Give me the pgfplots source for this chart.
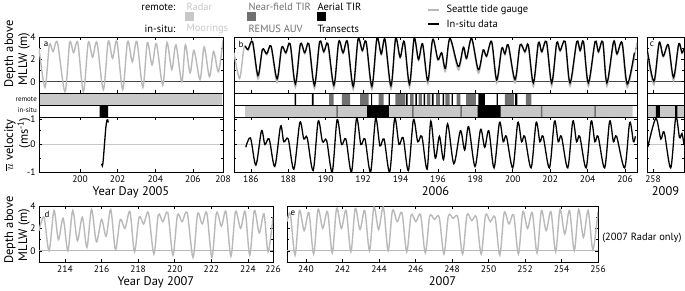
\documentclass[border=0pt]{standalone}
\usepackage{pgfplots}
\pgfplotsset{compat=1.18}
\usepackage{fontspec}
\setmainfont{PT Sans}
\definecolor{lg}{RGB}{200,200,200}
\definecolor{cg}{RGB}{185,185,185}
\definecolor{mg}{RGB}{112,112,112}
\definecolor{zg}{RGB}{70,70,70}
\newcommand\tickfont{\fontsize{9.5}{10}\selectfont}
\newcommand\labfont{\fontsize{12.5}{13}\selectfont}
\newcommand\legfont{\fontsize{10.5}{11}\selectfont}
\pgfplotsset{
 base/.style={scale only axis, anchor=north west, axis line style={line width=0.9pt},
   tick align=inside, major tick length=3bp, minor tick length=2bp,
   tick style={black, line width=0.6pt}, ticklabel style={font=\tickfont},
   /pgf/number format/assume math mode=true, xlabel style={font=\labfont, yshift=3bp}},
 depth/.style={base, height=56bp, ymin=-1, ymax=4, ytick={0,2,4}, minor ytick={1,3},
   extra y ticks={0}, extra y tick labels={}, extra y tick style={grid=major}},
 vel/.style={base, height=55bp, ymin=-1, ymax=1, ytick={-1,0,0.93}, yticklabels={-1,0,1}, minor ytick={-0.5,0.5},
   extra y ticks={0}, extra y tick labels={}, extra y tick style={grid=major},
   major grid style={lg, line width=0.8pt}},
 row/.style={scale only axis, anchor=north west, height=12bp, ymin=0, ymax=1, xtick=\empty, ytick=\empty,
   axis line style={line width=0.9pt}, axis on top},
 gline/.style={cg, line width=1.4pt, smooth},
 kline/.style={black, line width=1.3pt, smooth},
 bar/.style={const plot mark left, draw=none, fill=#1},
}
\begin{document}
\begin{tikzpicture}
\path[use as bounding box] (0,0) rectangle (685bp,-291bp);

% ---------- legend ----------
\node[anchor=east, font=\legfont] at (179bp,-7bp) {remote:};
\node[anchor=west, font=\legfont, text=lg] at (183bp,-7bp) {Radar};
\node[anchor=north west, fill=lg, minimum size=9bp, inner sep=0pt] at (185bp,-12bp) {};
\node[anchor=east, font=\legfont] at (179bp,-29bp) {in-situ:};
\node[anchor=west, font=\legfont, text=lg] at (183bp,-29bp) {Moorings};
\node[anchor=west, font=\legfont, text=mg] at (245bp,-7bp) {Near-field TIR};
\node[anchor=north west, fill=mg, minimum size=9bp, inner sep=0pt] at (247bp,-12bp) {};
\node[anchor=west, font=\legfont, text=mg] at (245bp,-29bp) {REMUS AUV};
\node[anchor=west, font=\legfont] at (314bp,-7bp) {Aerial TIR};
\node[anchor=north west, fill=black, minimum size=9bp, inner sep=0pt] at (317bp,-12bp) {};
\node[anchor=west, font=\legfont] at (314bp,-29bp) {Transects};
\draw[cg, line width=1.4pt] (428bp,-10bp) -- (439bp,-10bp);
\node[anchor=west, font=\legfont] at (443bp,-10bp) {Seattle tide gauge};
\draw[black, line width=1.3pt] (428bp,-24bp) -- (439bp,-24bp);
\node[anchor=west, font=\legfont] at (443bp,-24bp) {In-situ data};

% ---------- y labels ----------
\node[rotate=90, font=\labfont] at (10bp,-54bp) {Depth above};
\node[rotate=90, font=\labfont] at (24bp,-59bp) {MLLW (m)};
\node[anchor=east, inner sep=1pt, font=\fontsize{7}{7}\selectfont] at (38bp,-99bp) {remote};
\node[anchor=east, inner sep=1pt, font=\fontsize{7}{7}\selectfont] at (38bp,-110.5bp) {in-situ};
\node[rotate=90, font=\labfont] at (10bp,-145bp) {$\overline{u}$ velocity};
\node[rotate=90, font=\labfont] at (24bp,-133bp) {(ms\textsuperscript{-1})};
\node[rotate=90, font=\labfont] at (10bp,-230bp) {Depth above};
\node[rotate=90, font=\labfont] at (24bp,-235bp) {MLLW (m)};
\node[anchor=east, font=\legfont] at (685bp,-238bp) {(2007 Radar only)};

% ================= panel a =================
\begin{axis}[depth, at={(39bp,-37bp)}, width=184bp, xmin=197.82, xmax=207.6,
  xtick={200,202,204,206}, xticklabels={}, major grid style={zg, line width=0.7pt}]
\addplot[gline] coordinates {
(197.82,3.0)(198.14,-0.5)(198.37,3.3)(198.57,2.7)(198.8,3.5)(199.2,-0.9)(199.45,3.5)(199.66,2.6)(199.88,3.5)
(200.18,-0.9)(200.44,3.5)(200.67,2.2)(200.9,3.5)(201.24,-0.7)(201.5,3.6)(201.73,2.1)(201.96,3.6)
(202.27,-0.7)(202.53,3.6)(202.78,1.8)(203.02,3.6)(203.34,-0.5)(203.58,3.5)(203.83,1.5)(204.06,3.4)
(204.4,-0.3)(204.62,3.5)(204.88,1.1)(205.1,3.3)(205.41,0.0)(205.6,3.3)(205.85,0.8)(206.06,2.8)
(206.38,0.2)(206.6,3.1)(206.88,0.45)(207.1,2.7)(207.36,0.9)(207.6,3.7)};
\end{axis}
\node[font=\fontsize{9}{9}\selectfont] at (46bp,-44bp) {a};
\begin{axis}[row, at={(39bp,-93bp)}, width=184bp, xmin=197.82, xmax=207.6]
\addplot[bar=lg] coordinates {(197.82,1)(207.55,0)} \closedcycle;
\end{axis}
\begin{axis}[row, at={(39bp,-105bp)}, width=184bp, xmin=197.82, xmax=207.6]
\addplot[bar=black] coordinates {(201.04,1)(201.5,0)} \closedcycle;
\end{axis}
\begin{axis}[vel, at={(39bp,-117bp)}, width=184bp, xmin=197.82, xmax=207.6,
  xtick={200,202,204,206,207.6}, xticklabels={200,202,204,206,208}, xlabel={Year Day 2005}]
\addplot[kline] coordinates {(201.15,-0.7)(201.19,-0.78)(201.23,-0.6)(201.3,0)(201.37,0.6)(201.43,0.88)(201.47,0.9)(201.5,0.8)};
\end{axis}

% ================= panel b =================
\begin{axis}[depth, at={(234bp,-37bp)}, width=403bp, xmin=185.1, xmax=206.64,
  xtick={186,188,...,206}, xticklabels={}, yticklabels={}, major grid style={zg, line width=0.7pt}]
\addplot[gline] coordinates {
(185.1,2.6)(185.4,0.3)(185.64,3.1)(185.85,2.8)(186.09,3.5)(186.38,0.25)(186.62,2.8)(186.85,2.4)(187.08,3.1)
(187.4,-0.05)(187.65,3.0)(187.87,2.5)(188.1,3.3)(188.38,-0.5)(188.65,3.3)(188.88,2.5)(189.1,3.3)
(189.4,-0.6)(189.68,3.5)(189.9,2.6)(190.12,3.3)(190.44,-0.6)(190.7,3.5)(190.93,2.5)(191.16,3.5)
(191.47,-0.7)(191.73,3.7)(191.96,2.7)(192.16,3.5)(192.47,-0.7)(192.74,3.8)(192.97,2.4)(193.17,3.7)
(193.49,-0.65)(193.74,3.8)(193.98,2.1)(194.2,3.5)(194.48,-0.5)(194.73,3.8)(194.96,1.9)(195.18,3.3)
(195.46,-0.2)(195.72,3.7)(196.0,1.9)(196.2,2.5)(196.4,0.9)(196.64,3.8)(197.09,1.05)(197.36,3.0)
(197.53,2.0)(197.8,3.8)(198.16,0.77)(198.42,2.75)(198.6,2.2)(198.87,3.5)(199.14,-0.12)(199.41,2.9)
(199.58,2.4)(199.76,3.2)(200.12,-0.1)(200.39,3.2)(200.65,2.6)(200.83,3.2)(201.1,-0.4)(201.37,3.4)
(201.55,2.6)(201.8,3.5)(202.08,-0.4)(202.35,3.4)(202.53,2.7)(202.8,3.5)(203.06,-0.4)(203.42,3.5)
(203.6,2.7)(203.78,3.5)(204.04,-0.4)(204.4,3.5)(204.58,2.6)(204.81,3.5)(205.03,-0.4)(205.39,3.5)
(205.57,2.4)(205.84,3.4)(206.12,-0.5)(206.64,3.5)};
\addplot[kline] coordinates {
(185.7,3.2)(185.85,2.9)(186.09,3.6)(186.38,0.56)(186.62,2.9)(186.85,2.5)(187.08,3.2)
(187.4,0.27)(187.65,3.1)(187.87,2.6)(188.1,3.4)(188.38,-0.18)(188.65,3.4)(188.88,2.6)(189.1,3.4)
(189.4,-0.3)(189.68,3.6)(189.9,2.7)(190.12,3.4)(190.44,-0.3)(190.7,3.6)(190.93,2.6)(191.16,3.6)
(191.47,-0.4)(191.73,3.8)(191.96,2.8)(192.16,3.6)(192.47,-0.4)(192.74,3.9)(192.97,2.5)(193.17,3.8)
(193.49,-0.35)(193.74,3.9)(193.98,2.2)(194.2,3.6)(194.48,-0.2)(194.73,3.9)(194.96,2.0)(195.18,3.4)
(195.46,0.1)(195.72,3.8)(196.0,2.0)(196.2,2.6)(196.4,1.2)(196.64,3.9)(197.09,1.36)(197.36,3.1)
(197.53,2.1)(197.8,3.9)(198.16,1.07)(198.42,2.85)(198.6,2.3)(198.87,3.6)(199.14,0.18)(199.41,3.0)
(199.58,2.5)(199.76,3.3)(200.12,0.2)(200.39,3.3)(200.65,2.7)(200.83,3.3)(201.1,-0.1)(201.37,3.5)
(201.55,2.7)(201.8,3.6)(202.08,-0.1)(202.35,3.5)(202.53,2.8)(202.8,3.6)(203.06,-0.1)(203.42,3.6)
(203.6,2.8)(203.78,3.6)(204.04,-0.1)(204.4,3.6)(204.58,2.7)(204.81,3.6)(205.03,-0.1)(205.39,3.6)
(205.57,2.5)(205.84,3.5)(206.12,-0.2)(206.5,2.6)};
\end{axis}
\node[font=\fontsize{9}{9}\selectfont] at (241bp,-44bp) {b};
\begin{axis}[row, at={(234bp,-93bp)}, width=403bp, xmin=185.1, xmax=206.64]
\addplot[bar=mg] coordinates {(190.19,1)(190.42,0)(190.87,1)(191.31,0)(191.84,1)(192.29,0)(192.83,1)(193.1,0)
(193.72,1)(194.25,0)(194.52,1)(194.7,0)(194.97,1)(195.14,0)(195.41,1)(195.59,0)(195.9,1)(196.1,0)
(196.4,1)(196.62,0)(197.0,1)(197.2,0)(197.5,1)(198.03,0)(199.58,1)(200.06,0)(200.7,1)(201.0,0)} \closedcycle;
\addplot[bar=black] coordinates {(188.34,1)(188.42,0)(189.26,1)(189.35,0)(192.43,1)(192.48,0)(193.36,1)(193.43,0)
(194.29,1)(194.38,0)(194.79,1)(194.88,0)(195.24,1)(195.32,0)(195.68,1)(195.77,0)(196.25,1)(196.33,0)
(196.73,1)(196.8,0)(198.16,1)(198.51,0)(199.14,1)(199.2,0)(200.12,1)(200.24,0)} \closedcycle;
\end{axis}
\begin{axis}[row, at={(234bp,-105bp)}, width=403bp, xmin=185.1, xmax=206.64]
\addplot[bar=lg] coordinates {(185.7,1)(206.4,0)} \closedcycle;
\addplot[bar=mg] coordinates {(190.57,1)(190.65,0)(194.62,1)(194.7,0)(197.2,1)(197.28,0)(201.5,1)(201.58,0)(204.36,1)(204.44,0)} \closedcycle;
\addplot[bar=black] coordinates {(192.22,1)(193.38,0)(198.12,1)(199.35,0)} \closedcycle;
\end{axis}
\begin{axis}[vel, at={(234bp,-117bp)}, width=403bp, xmin=185.1, xmax=206.64,
  xtick={186,188,...,206}, yticklabels={}, xlabel={2006}]
\addplot[kline] coordinates {
(185.73,-0.1)(185.98,0.24)(186.27,-0.75)(186.57,0.5)(186.75,0.0)(186.98,0.2)(187.28,-0.8)(187.59,0.67)
(187.76,0.1)(188.0,0.2)(188.3,-0.9)(188.62,0.8)(188.83,0.2)(189.01,0.25)(189.33,-0.95)(189.6,0.85)
(189.83,0.1)(190.05,0.15)(190.35,-1.0)(190.61,0.9)(190.85,0.0)(191.08,0.2)(191.38,-1.0)(191.65,0.95)
(191.88,0.0)(192.1,0.2)(192.4,-1.0)(192.67,0.95)(192.9,-0.05)(193.12,0.2)(193.42,-1.0)(193.69,0.95)
(193.92,0.0)(194.14,0.25)(194.42,-0.95)(194.69,0.9)(194.92,0.1)(195.14,0.3)(195.42,-0.9)(195.62,0.85)
(195.86,-0.5)(196.08,0.3)(196.3,-0.55)(196.52,0.75)(196.85,-0.7)(197.2,0.5)(197.43,-0.2)(197.64,0.65)
(197.98,-0.8)(198.28,0.55)(198.5,-0.1)(198.72,0.5)(199.0,-0.85)(199.29,0.8)(199.49,0.1)(199.66,0.3)
(200.0,-0.85)(200.27,0.8)(200.47,0.1)(200.64,0.3)(200.98,-0.85)(201.25,0.8)(201.45,0.1)(201.62,0.3)
(201.96,-0.85)(202.23,0.85)(202.43,0.1)(202.6,0.3)(202.94,-0.85)(203.21,0.85)(203.41,0.1)(203.58,0.3)
(203.92,-0.85)(204.19,0.85)(204.39,0.1)(204.56,0.3)(204.91,-0.85)(205.18,0.85)(205.38,0.1)(205.55,0.3)
(205.98,-0.85)(206.25,0.8)(206.45,0.1)(206.55,0.3)};
\end{axis}

% ================= panel c =================
\begin{axis}[depth, at={(647bp,-37bp)}, width=37bp, xmin=257.68, xmax=259.66,
  xtick={258}, xticklabels={}, yticklabels={}, major grid style={zg, line width=0.7pt}]
\addplot[gline] coordinates {(257.68,2.7)(258.05,-0.25)(258.33,3.4)(258.55,2.2)(258.82,3.2)(259.1,0.1)(259.38,3.3)(259.55,2.5)(259.66,2.9)};
\addplot[kline] coordinates {(257.7,2.8)(258.05,0.05)(258.33,3.5)(258.55,2.3)(258.82,3.3)(259.1,0.4)(259.38,3.4)(259.55,2.6)(259.66,3.0)};
\end{axis}
\node[font=\fontsize{9}{9}\selectfont] at (652bp,-44bp) {c};
\begin{axis}[row, at={(647bp,-93bp)}, width=37bp, xmin=257.68, xmax=259.66]
\end{axis}
\begin{axis}[row, at={(647bp,-105bp)}, width=37bp, xmin=257.68, xmax=259.66]
\addplot[bar=lg] coordinates {(257.68,1)(259.66,0)} \closedcycle;
\addplot[bar=black] coordinates {(258.16,1)(258.37,0)(259.18,1)(259.3,0)} \closedcycle;
\end{axis}
\begin{axis}[vel, at={(647bp,-117bp)}, width=37bp, xmin=257.68, xmax=259.66,
  xtick={258}, yticklabels={}, xlabel={2009}]
\addplot[kline] coordinates {(257.72,-0.1)(258.15,0.95)(258.42,0.2)(258.6,0.45)(258.95,-0.85)(259.22,1.0)(259.42,0.25)(259.55,0.4)(259.66,0.0)};
\end{axis}

% ================= panel d =================
\begin{axis}[depth, at={(39bp,-206bp)}, width=234bp, xmin=212.58, xmax=225.37,
  xtick={214,216,218,220,222,224,225.37}, xticklabels={214,216,218,220,222,224,226},
  xlabel={Year Day 2007}, major grid style={cg, line width=0.9pt}]
\addplot[gline] coordinates {
(212.58,1.8)(212.85,3.0)(213.13,0.0)(213.4,3.6)(213.64,1.0)(213.9,2.9)(214.16,0.0)(214.42,3.6)
(214.68,0.9)(214.95,3.0)(215.2,0.3)(215.45,3.7)(215.72,0.8)(216.0,2.8)(216.25,1.3)(216.5,3.7)
(216.76,0.1)(217.02,2.8)(217.28,2.0)(217.55,3.5)(217.8,-0.1)(218.05,3.0)(218.3,2.4)(218.56,3.4)
(218.86,-0.3)(219.1,3.2)(219.35,2.6)(219.62,3.4)(219.9,-0.4)(220.15,3.2)(220.4,2.6)(220.68,3.4)
(221.0,-0.6)(221.25,3.3)(221.5,2.4)(221.75,3.4)(222.03,-0.6)(222.28,3.4)(222.55,2.2)(222.8,3.5)
(223.07,-0.5)(223.32,3.5)(223.6,2.0)(223.85,3.5)(224.1,-0.4)(224.35,3.6)(224.62,1.6)(224.88,3.3)
(225.1,-0.1)(225.37,3.0)};
\end{axis}
\node[font=\fontsize{9}{9}\selectfont] at (47bp,-214bp) {d};

% ================= panel e =================
\begin{axis}[depth, at={(287bp,-206bp)}, width=311bp, xmin=238.96, xmax=256,
  xtick={240,242,...,256}, yticklabels={}, xlabel={2007}, major grid style={cg, line width=0.9pt}]
\addplot[gline] coordinates {
(238.96,2.6)(239.14,3.3)(239.4,-0.4)(239.64,3.6)(239.9,1.8)(240.16,3.4)(240.42,-0.3)(240.66,3.7)
(240.92,2.0)(241.18,3.5)(241.44,-0.2)(241.68,3.8)(241.94,2.0)(242.2,3.6)(242.46,-0.1)(242.7,3.8)
(242.96,1.9)(243.22,3.6)(243.48,0.0)(243.72,3.9)(243.98,1.9)(244.24,3.9)(244.5,0.0)(244.74,3.6)
(245.0,2.6)(245.26,3.4)(245.52,-0.1)(245.76,3.2)(246.02,2.6)(246.28,3.2)(246.54,-0.2)(246.78,3.1)
(247.04,2.8)(247.3,3.0)(247.56,-0.3)(247.8,3.1)(248.06,2.9)(248.32,3.0)(248.58,-0.3)(248.82,3.2)
(249.08,2.7)(249.34,3.0)(249.6,-0.3)(249.84,3.2)(250.1,2.6)(250.36,3.0)(250.62,-0.4)(250.86,3.4)
(251.12,2.4)(251.38,3.2)(251.64,-0.3)(251.88,3.5)(252.14,2.0)(252.4,3.4)(252.66,-0.2)(252.9,3.6)
(253.16,1.8)(253.42,3.5)(253.68,-0.1)(253.92,3.7)(254.18,1.5)(254.44,3.6)(254.7,0.0)(254.94,3.7)
(255.2,1.2)(255.46,3.6)(255.72,0.1)(256.0,3.5)};
\end{axis}
\node[font=\fontsize{9}{9}\selectfont] at (293bp,-213bp) {e};
\end{tikzpicture}
\end{document}
